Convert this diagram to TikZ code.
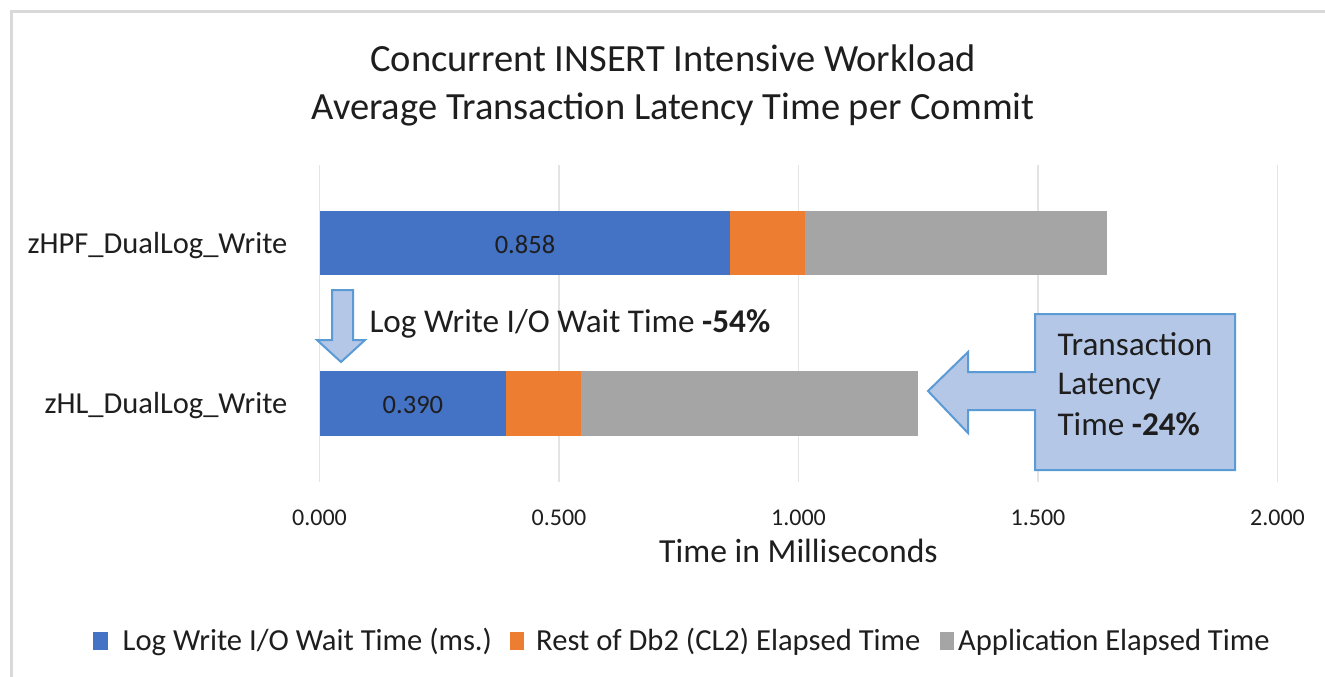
\documentclass[tikz,border=0pt]{standalone}
\usepackage{fontspec}
\setmainfont{Carlito}
\usepackage{tikz}
\usetikzlibrary{positioning}
\definecolor{bar_blue}{RGB}{68, 114, 196}
\definecolor{bar_orange}{RGB}{237, 125, 49}
\definecolor{bar_grey}{RGB}{165, 165, 165}
\definecolor{call_fill}{RGB}{180, 199, 231}
\definecolor{call_line}{RGB}{91, 155, 213}
\definecolor{frame_grey}{RGB}{217, 217, 217}
\definecolor{txt_dark}{RGB}{30, 30, 30}

\begin{document}
\begin{tikzpicture}[x=1pt, y=-1pt, text=txt_dark,
      title/.style={anchor=base, font=\fontsize{38.5}{44}\selectfont},
      catlab/.style={anchor=base east, font=\fontsize{30.5}{35}\selectfont},
      vallab/.style={anchor=base, font=\fontsize{26.5}{30}\selectfont},
      ticklab/.style={anchor=base, font=\fontsize{24}{28}\selectfont},
      note/.style={anchor=base west, font=\fontsize{33.2}{38}\selectfont},
      legtext/.style={anchor=base west, inner sep=0pt, font=\fontsize{30.6}{35}\selectfont},
      grid/.style={draw=frame_grey!70, line width=1.2pt},
      callout/.style={fill=call_fill, draw=call_line, line width=2pt, line join=miter}]
    \useasboundingbox (0,0) rectangle (1325,677);
    \fill[white] (0,0) rectangle (1325,677);
    \draw[frame_grey, line width=3pt] (11.5,677) -- (11.5,11.5) -- (1325,11.5);

    % title
    \node[title] (title1) at (673,71.5) {Concurrent INSERT Intensive Workload};
    \node[title] (title2) at (673,119) {Average Transaction Latency Time per Commit};

    % plot, x in milliseconds
    \begin{scope}[xshift=319.5pt, x=479pt]
      \foreach \t/\lab in {0/0.000, 0.5/0.500, 1/1.000, 1.5/1.500, 2/2.000} {
        \draw[grid] (\t,165) -- (\t,482);
        \node[ticklab] (tick\lab) at (\t,525) {\lab};
      }
      \foreach \a/\b/\c in {0/0.858/bar_blue, 0.858/1.014/bar_orange, 1.014/1.644/bar_grey}
        \fill[\c] (\a,211) rectangle (\b,275);
      \foreach \a/\b/\c in {0/0.390/bar_blue, 0.390/0.546/bar_orange, 0.546/1.250/bar_grey}
        \fill[\c] (\a,371) rectangle (\b,436);
      \node[vallab] (val1) at (0.429,253) {0.858};
      \node[vallab] (val2) at (0.195,413) {0.390};
    \end{scope}

    \node[catlab] (cat1) at (291,253) {zHPF\_DualLog\_Write};
    \node[catlab] (cat2) at (291,413) {zHL\_DualLog\_Write};
    \node[anchor=base, font=\fontsize{33.7}{38}\selectfont] (xtitle) at (798.5,562) {Time in Milliseconds};

    % down arrow and its note
    \draw[callout] (332,290) -- (353,290) -- (353,340) -- (365,340) -- (341,362)
      -- (317,340) -- (332,340) -- cycle;
    \node[note] (lognote) at (366,332) {Log Write I/O Wait Time \textbf{-54\%}};

    % callout with left arrow
    \draw[callout] (1235,314) -- (1235,470) -- (1035,470) -- (1035,410) -- (968,410)
      -- (968,433) -- (928,391) -- (968,352) -- (968,372) -- (1035,372) -- (1035,314) -- cycle;
    \node[note] (tl1) at (1054,355) {Transaction};
    \node[note] (tl2) at (1054,394) {Latency};
    \node[note] (tl3) at (1054,435) {Time \textbf{-24\%}};

    % legend
    \fill[bar_blue] (93,632) rectangle (108,650);
    \node[legtext] (leg1) at (122.5,650) {Log Write I/O Wait Time (ms.)};
    \fill[bar_orange] (510,632) rectangle (524,650);
    \node[legtext] (leg2) at (536,650) {Rest of Db2 (CL2) Elapsed Time};
    \fill[bar_grey] (940,632) rectangle (954,650);
    \node[legtext] (leg3) at (958,650) {Application Elapsed Time};
  \end{tikzpicture}
\end{document}
